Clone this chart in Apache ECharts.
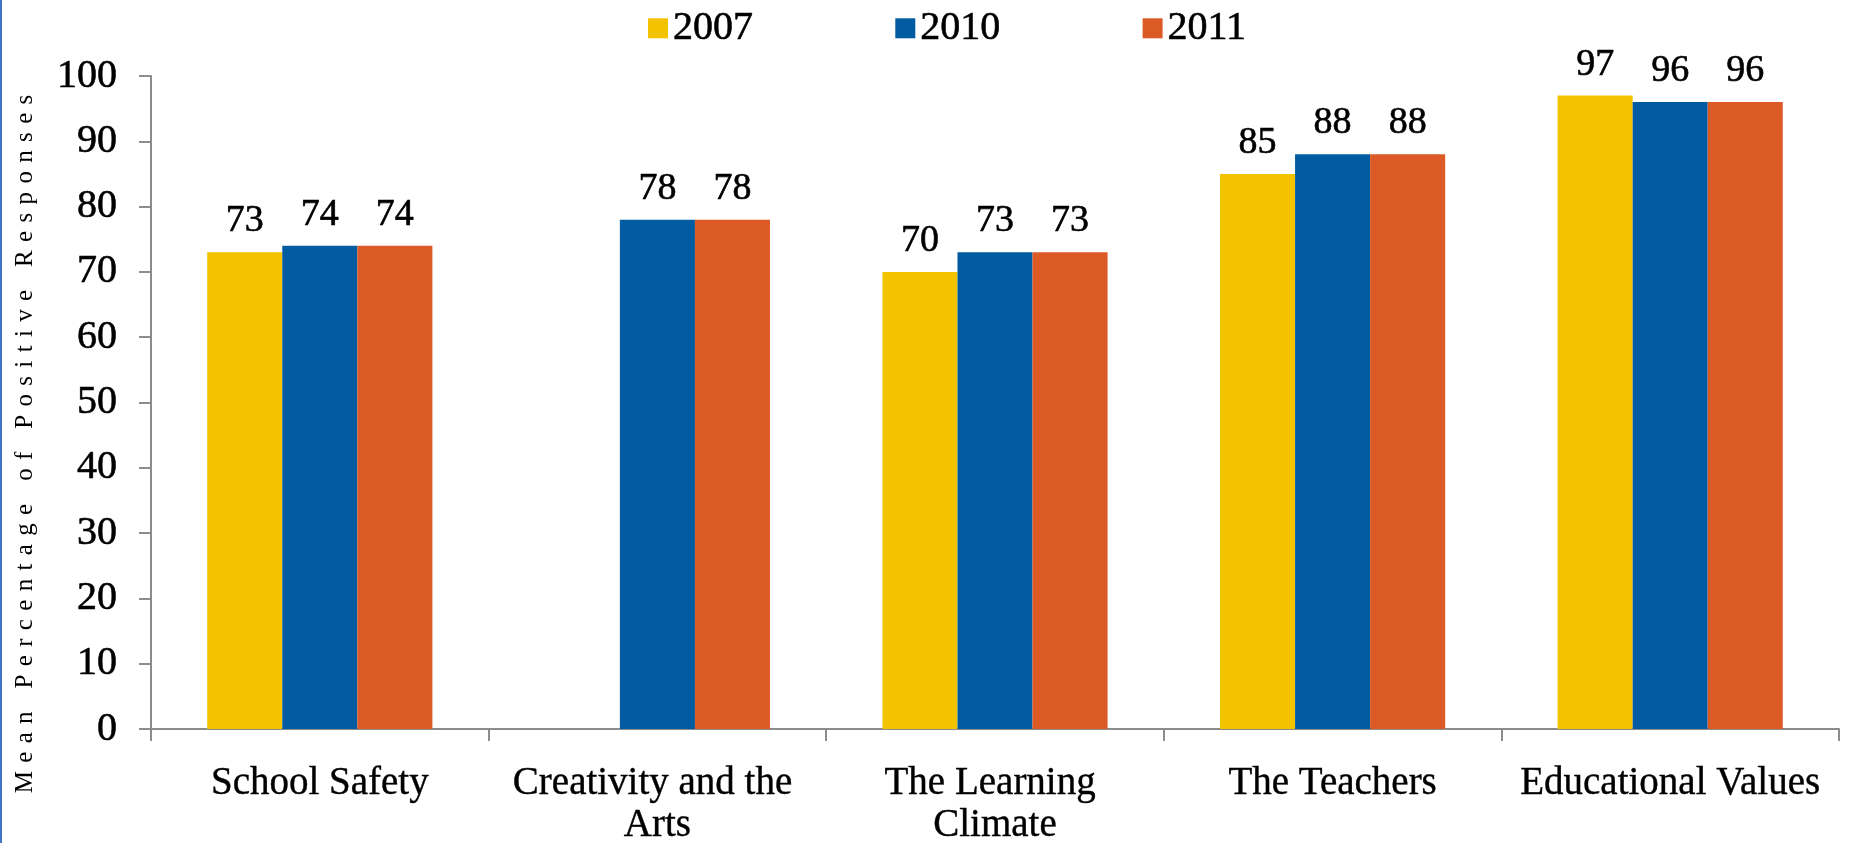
<!DOCTYPE html>
<html>
<head>
<meta charset="utf-8">
<title>Mean Percentage of Positive Responses</title>
<script src="https://cdn.jsdelivr.net/npm/echarts@6/dist/echarts.min.js"></script>
<style>
  html, body { margin: 0; padding: 0; background: #ffffff; }
  #chart { width: 1851px; height: 843px; }
</style>
</head>
<body>
<div id="chart"></div>
<script>
// Survey categories and yearly results
const categories = ['School Safety', 'Creativity and the Arts', 'The Learning Climate', 'The Teachers', 'Educational Values'];
const years = ['2007', '2010', '2011'];
const values2007 = [73, null, 70, 85, 97];
const values2010 = [74, 78, 73, 88, 96];
const values2011 = [74, 78, 73, 88, 96];
const yTicks = { min: 0, max: 100, step: 10 };
const yAxisTitle = 'Mean Percentage of Positive Responses';

const colors = ['#F3C300', '#005BA0', '#DC5A25'];
const serif = '"Liberation Serif", "DejaVu Serif", serif';

// widen the vertical title with three-per-em spaces between letters
const spacedTitle = yAxisTitle.split('').join('\u2004');

// a hairline outline in the text colour gives the glyphs a heavier weight
const heavy = { textBorderColor: '#000', textBorderWidth: 0.6 };

const chart = echarts.init(document.getElementById('chart'), null, { renderer: 'canvas' });

function barSeries(name, data, color) {
  return {
    name: name,
    type: 'bar',
    data: data,
    barGap: '0%',
    barCategoryGap: '33.3%',
    itemStyle: { color: color },
    label: Object.assign({
      show: true,
      position: 'top',
      distance: 12,
      color: '#000',
      fontFamily: serif,
      fontSize: 38
    }, heavy)
  };
}

chart.setOption({
  animation: false,
  color: colors,
  legend: {
    data: years,
    left: 643,
    top: 3,
    itemWidth: 20,
    itemHeight: 20,
    itemGap: 142,
    icon: 'rect',
    textStyle: Object.assign({ fontFamily: serif, fontSize: 40, color: '#000' }, heavy)
  },
  grid: { left: 151, right: 12, top: 76, bottom: 114, containLabel: false, outerBoundsMode: 'none' },
  xAxis: {
    type: 'category',
    data: categories,
    axisLine: { show: true, lineStyle: { color: '#8c8c8c', width: 2 } },
    axisTick: { show: true, length: 12, lineStyle: { color: '#8c8c8c', width: 2 } },
    axisLabel: Object.assign({
      interval: 0,
      margin: 34,
      color: '#000',
      fontFamily: serif,
      fontSize: 39,
      lineHeight: 42,
      width: 330,
      overflow: 'break'
    }, { textBorderColor: '#000', textBorderWidth: 0.4 })
  },
  yAxis: {
    type: 'value',
    min: yTicks.min,
    max: yTicks.max,
    interval: yTicks.step,
    splitLine: { show: false },
    axisLine: { show: true, lineStyle: { color: '#8c8c8c', width: 2 } },
    axisTick: { show: true, length: 12, lineStyle: { color: '#8c8c8c', width: 2 } },
    axisLabel: Object.assign({ margin: 34, color: '#000', fontFamily: serif, fontSize: 40 }, heavy)
  },
  graphic: [
    {
      type: 'rect',
      left: 0,
      top: 0,
      shape: { width: 2, height: 843 },
      style: { fill: '#4472C4' }
    },
    {
      type: 'text',
      x: 25,
      y: 444,
      rotation: Math.PI / 2,
      style: {
        text: spacedTitle,
        font: '25px ' + serif,
        fill: '#000',
        align: 'center',
        verticalAlign: 'middle'
      }
    }
  ],
  series: [
    barSeries(years[0], values2007, colors[0]),
    barSeries(years[1], values2010, colors[1]),
    barSeries(years[2], values2011, colors[2])
  ]
});
</script>
</body>
</html>
